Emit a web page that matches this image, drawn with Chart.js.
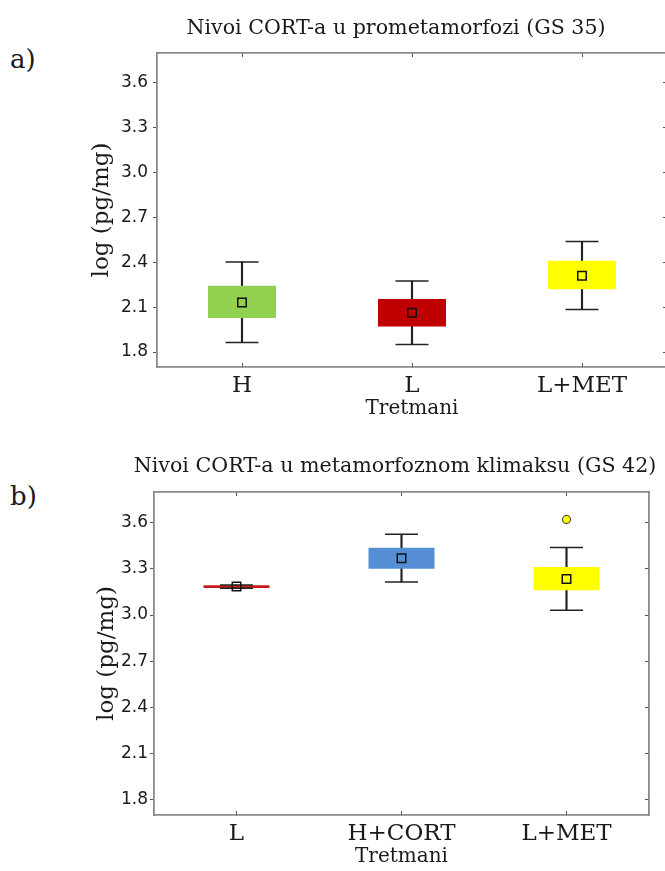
<!DOCTYPE html>
<html>
<head>
<meta charset="utf-8">
<script src="https://cdn.jsdelivr.net/npm/chart.js@4.4.1/dist/chart.umd.min.js"></script>
<style>
  html, body { margin: 0; padding: 0; background: #fff; overflow: hidden; width: 665px; height: 871px; }
  .wrap { position: relative; width: 665px; height: 871px; overflow: hidden; }
  canvas { position: absolute; }
  .tag { position: absolute; font-family: "DejaVu Serif", serif; font-size: 26px; color: #1a1a1a; line-height: 1; }
</style>
</head>
<body>
<div class="wrap">
  <div class="tag" style="left:10px; top:46px;">a)</div>
  <div class="tag" style="left:10px; top:483px;">b)</div>
  <canvas id="chartA" width="616" height="430" style="left:88px; top:0px;"></canvas>
  <canvas id="chartB" width="614" height="436" style="left:88px; top:435px;"></canvas>
</div>
<script>
// ---------- DATA ----------
const titleA = 'Nivoi CORT-a u prometamorfozi (GS 35)';
const catsA = ['H', 'L', 'L+MET'];
const whiskerLowA  = [1.864, 1.850, 2.085];
const q1A          = [2.027, 1.971, 2.220];
const q3A          = [2.244, 2.155, 2.410];
const whiskerHighA = [2.403, 2.275, 2.540];
const meanA        = [2.132, 2.063, 2.311];
const outliersA    = [null, null, null];

const titleB = 'Nivoi CORT-a u metamorfoznom klimaksu (GS 42)';
const catsB = ['L', 'H+CORT', 'L+MET'];
const whiskerLowB  = [3.174, 3.215, 3.031];
const q1B          = [3.176, 3.301, 3.161];
const q3B          = [3.194, 3.438, 3.312];
const whiskerHighB = [3.196, 3.525, 3.440];
const meanB        = [3.185, 3.369, 3.234];
const outliersB    = [null, null, 3.622];

const yTicks = [1.8, 2.1, 2.4, 2.7, 3.0, 3.3, 3.6];
const yMin = 1.7;
const yMax = 3.8;
const xTitle = 'Tretmani';
const yTitle = 'log (pg/mg)';

// ---------- STYLES ----------
const boxColorsA = ['#92D050', '#C00000', '#FFFF00'];
const boxColorsB = ['#C81A1A', '#558ED5', '#FFFF00'];
const SERIF = '"DejaVu Serif", "Liberation Serif", serif';
const SANS = '"DejaVu Sans", "Liberation Sans", sans-serif';
const TEXT = '#1a1a1a';
const FRAME = '#8a8a8a';

function buildChart(canvasId, p) {
  const ctx = document.getElementById(canvasId).getContext('2d');
  const outTicks = { display: true, drawOnChartArea: false, drawTicks: true, tickLength: 4, color: '#555', lineWidth: 1 };
  const inTicks = Object.assign({}, outTicks, { tickLength: -4 });
  const border = { display: true, color: FRAME, width: 1.8 };
  return new Chart(ctx, {
    type: 'bar',
    data: {
      labels: p.cats,
      datasets: [
        { // mean marker
          type: 'line', data: p.mean, showLine: false, order: 0,
          pointStyle: 'rect', pointRadius: 6, pointHoverRadius: 6,
          borderColor: '#111', borderWidth: 1.5, backgroundColor: 'rgba(0,0,0,0)'
        },
        { // outliers
          type: 'line', data: p.outliers, showLine: false, order: 0,
          pointStyle: 'circle', pointRadius: 4, pointHoverRadius: 4,
          borderColor: '#555', borderWidth: 1.2, backgroundColor: '#FFFF00'
        },
        { // upper whisker cap
          type: 'line', data: p.wHigh, showLine: false, order: 1,
          pointStyle: 'line', pointRadius: 16.5, pointHoverRadius: 16.5,
          borderColor: '#222', borderWidth: 1.5
        },
        { // lower whisker cap
          type: 'line', data: p.wLow, showLine: false, order: 1,
          pointStyle: 'line', pointRadius: 16.5, pointHoverRadius: 16.5,
          borderColor: '#222', borderWidth: 1.5
        },
        { // box
          type: 'bar', order: 2, grouped: false,
          data: p.cats.map((c, i) => [p.q1[i], p.q3[i]]),
          backgroundColor: p.colors, borderWidth: 0,
          barPercentage: 0.4, categoryPercentage: 1.0
        },
        { // whisker stem
          type: 'bar', order: 3, grouped: false,
          data: p.cats.map((c, i) => [p.wLow[i], p.wHigh[i]]),
          backgroundColor: '#222', borderWidth: 0,
          barThickness: 1.5
        }
      ]
    },
    options: {
      responsive: false,
      animation: false,
      devicePixelRatio: 1,
      events: [],
      layout: { padding: 0 },
      plugins: {
        legend: { display: false },
        tooltip: { enabled: false },
        title: {
          display: true, text: p.title, color: TEXT,
          font: { family: SERIF, size: 20.6, weight: 'normal', lineHeight: 1.2 },
          padding: { top: p.titleTop, bottom: p.titleBottom }
        }
      },
      scales: {
        x: {
          type: 'category', position: 'bottom', offset: true,
          grid: Object.assign({}, inTicks, { offset: false }),
          border: border,
          ticks: { color: TEXT, padding: 9, font: { family: SERIF, size: 23 } },
          title: { display: true, text: xTitle, color: TEXT,
                   font: { family: SERIF, size: 20, lineHeight: 1.2 },
                   padding: { top: 0, bottom: p.xTitleBottom } },
          afterFit: s => { s.height = p.xHeight; }
        },
        x2: {
          type: 'category', position: 'top', offset: true,
          grid: Object.assign({}, inTicks, { offset: false }),
          border: border,
          ticks: { display: false },
          afterFit: s => { s.height = 4; }
        },
        y: {
          type: 'linear', position: 'left', min: yMin, max: yMax,
          grid: outTicks, border: border,
          afterBuildTicks: s => { s.ticks = yTicks.map(v => ({ value: v })); },
          ticks: { color: TEXT, padding: p.yTickPad, font: { family: SANS, size: 17 },
                   callback: v => Number(v).toFixed(1) },
          title: { display: true, text: yTitle, color: TEXT,
                   font: { family: SERIF, size: 23, lineHeight: 1.2 },
                   padding: { top: p.yTitleTop, bottom: 0 } },
          afterFit: s => { s.width = p.yWidth; }
        },
        y2: {
          type: 'linear', position: 'right', min: yMin, max: yMax,
          grid: inTicks, border: Object.assign({}, border, { display: p.rightBorder }),
          afterBuildTicks: s => { s.ticks = yTicks.map(v => ({ value: v })); },
          ticks: { display: false },
          afterFit: s => { s.width = p.y2Width; }
        }
      }
    }
  });
}

buildChart('chartA', {
  title: titleA, cats: catsA, wLow: whiskerLowA, q1: q1A, q3: q3A, wHigh: whiskerHighA,
  mean: meanA, outliers: outliersA, colors: boxColorsA, rightBorder: false,
  y2Width: 37, titleTop: 16.6, titleBottom: 7.7,
  xHeight: 63, xTitleBottom: 9, yWidth: 69, yTickPad: 5, yTitleTop: 0
});

buildChart('chartB', {
  title: titleB, cats: catsB, wLow: whiskerLowB, q1: q1B, q3: q3B, wHigh: whiskerHighB,
  mean: meanB, outliers: outliersB, colors: boxColorsB, rightBorder: true,
  y2Width: 53, titleTop: 19.6, titleBottom: 8.7,
  xHeight: 56, xTitleBottom: 2, yWidth: 66, yTickPad: 2, yTitleTop: 5
});
</script>
</body>
</html>
